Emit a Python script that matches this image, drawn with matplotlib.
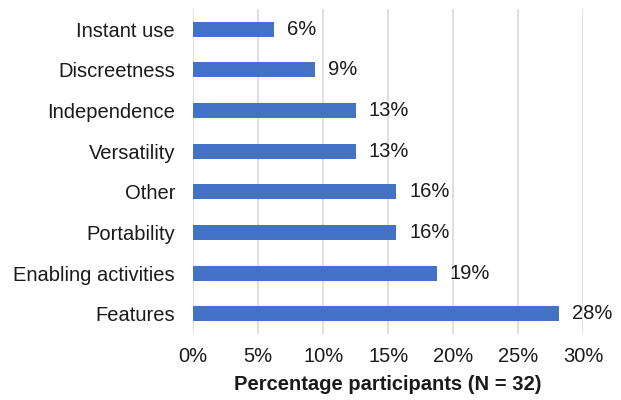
import math
import matplotlib.pyplot as plt
from matplotlib.ticker import FuncFormatter

plt.rcParams['font.family'] = ['Liberation Sans', 'DejaVu Sans']

# Reasons (top to bottom) and counts out of N = 32
categories = ["Instant use", "Discreetness", "Independence", "Versatility",
              "Other", "Portability", "Enabling activities", "Features"]
counts = [2, 3, 4, 4, 5, 5, 6, 9]
n_total = 32
percents = [c / n_total * 100 for c in counts]
xticks = [0, 5, 10, 15, 20, 25, 30]

fs = 14.5

fig = plt.figure(figsize=(6.21, 4.0), dpi=100)
ax = fig.add_axes([0.311, 0.165, 0.628, 0.8125])

ypos = list(range(len(categories)))[::-1]
ax.barh(ypos, percents, height=0.37, color="#4472C4", zorder=3)

for y, p in zip(ypos, percents):
    # round half up like Excel does (12.5 -> 13)
    ax.text(p + 1.0, y, f"{math.floor(p + 0.5)}%", va="center", ha="left",
            fontsize=fs, color="#1a1a1a")

ax.set_yticks(ypos)
ax.set_yticklabels(categories, fontsize=fs, color="#1a1a1a")
ax.set_xlim(0, 30)
ax.set_ylim(-0.5, len(categories) - 0.5)
ax.set_xticks(xticks)
ax.xaxis.set_major_formatter(FuncFormatter(lambda v, _: f"{v:.0f}%"))
ax.tick_params(axis="x", labelsize=fs, colors="#1a1a1a", length=0, pad=9)
ax.tick_params(axis="y", length=0, pad=13)
ax.grid(axis="x", color="#D9D9D9", linewidth=1.2, zorder=0)
for s in ax.spines.values():
    s.set_visible(False)

ax.set_xlabel("Percentage participants (N = 32)", fontsize=fs,
              fontweight="bold", color="#1a1a1a", labelpad=7)

fig.savefig("out.png", dpi=100)
